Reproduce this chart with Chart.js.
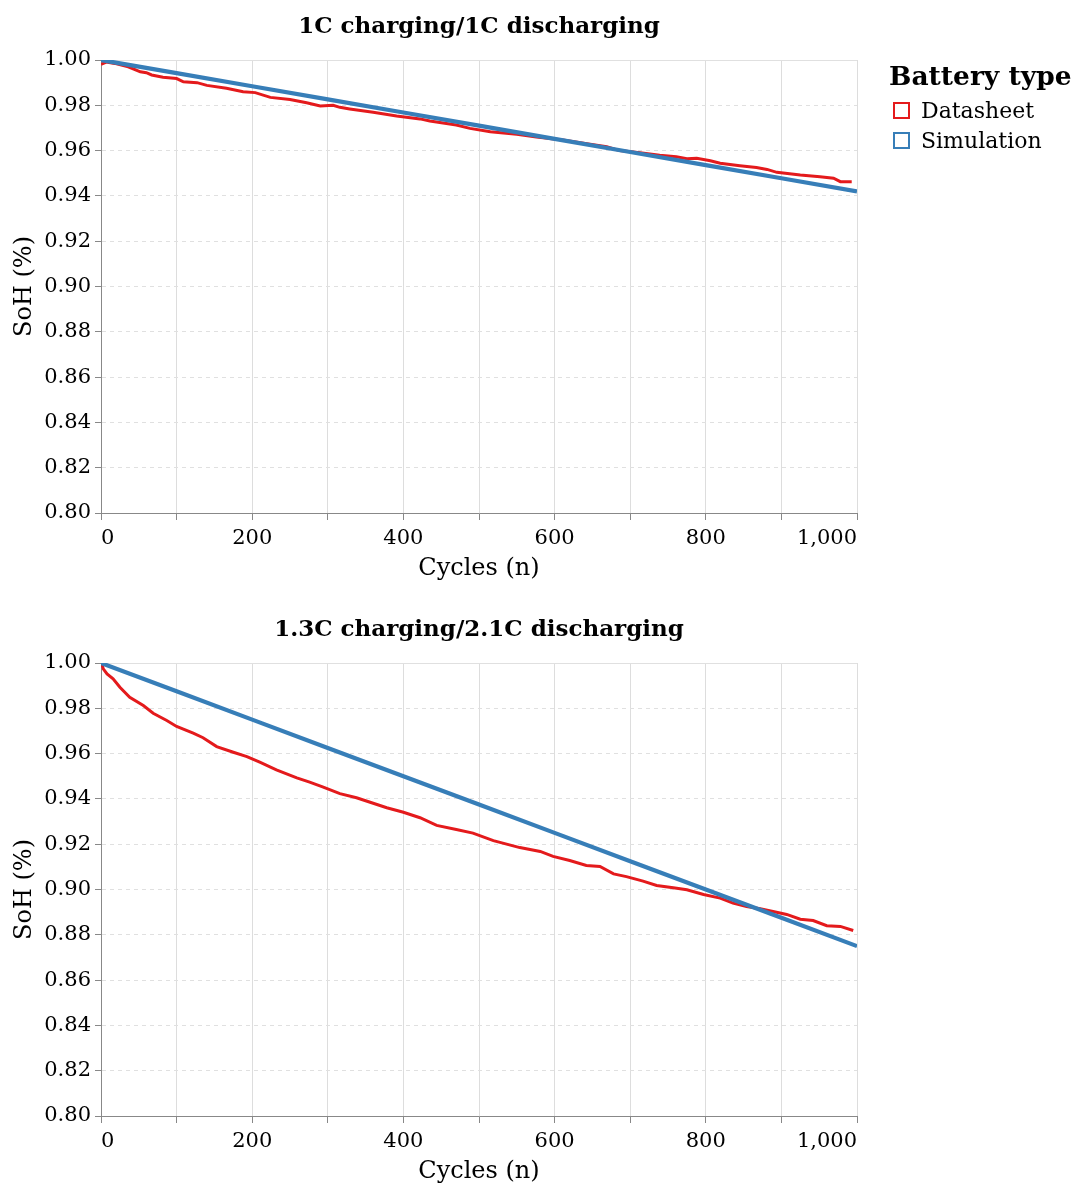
<!DOCTYPE html>
<html lang="en">
<head>
  <meta charset="UTF-8" />
  <title>SoH vs cycles</title>
  <script src="https://cdn.jsdelivr.net/npm/chart.js"></script>
  <style>
    body {
      margin: 0;
      background: #fff;
      color: #000;
      font-family: 'DejaVu Serif', serif;
    }

    #page {
      position: relative;
      width: 1079px;
      height: 1187px;
    }

    .panel {
      position: absolute;
      left: 0;
      width: 1079px;
      height: 584px;
    }

    #panel1 { top: 0; }
    #panel2 { top: 603px; }

    #legend {
      position: absolute;
      left: 889px;
      top: 60px;
    }

    #legend .title {
      font-weight: bold;
      font-size: 26.5px;
      line-height: 32px;
      margin-bottom: 3px;
    }

    #legend .item {
      display: flex;
      align-items: center;
      height: 30px;
      font-size: 22px;
    }

    #legend .box {
      width: 13px;
      height: 13px;
      border: 2px solid;
      margin-left: 4px;
      margin-right: 11px;
    }
  </style>
</head>
<body>
  <div id="page">
    <div class="panel" id="panel1"><canvas id="chart1"></canvas></div>
    <div class="panel" id="panel2"><canvas id="chart2"></canvas></div>
    <div id="legend"><div class="title">Battery type</div></div>
  </div>

  <script>
    const seriesNames = ["Datasheet", "Simulation"];
    const seriesColors = ["#e41a1c", "#377eb8"];

    const xTickValues = [0, 100, 200, 300, 400, 500, 600, 700, 800, 900, 1000];
    const yTickValues = [0.80, 0.82, 0.84, 0.86, 0.88, 0.90, 0.92, 0.94, 0.96, 0.98, 1.00];

    // simulation, both panels
    const simCycles = [0, 100, 200, 300, 400, 500, 600, 700, 800, 900, 1000];
    const simSoh1 = [1.000, 0.9942, 0.9884, 0.9826, 0.9768, 0.9710, 0.9652, 0.9594, 0.9536, 0.9478, 0.9420];
    const simSoh2 = [1.000, 0.9875, 0.9750, 0.9625, 0.9500, 0.9375, 0.9250, 0.9125, 0.9000, 0.8875, 0.8750];

    // datasheet, 1C / 1C
    const dsCycles1 = [0, 7, 18, 36, 52, 60, 67, 82, 100, 109, 127, 140, 166, 188, 204, 224, 250, 272, 290, 307,
      316, 329, 360, 391, 422, 435, 470, 488, 515, 550, 576, 611, 647, 669, 686, 713, 739, 761, 775, 788,
      806, 819, 845, 867, 881, 894, 925, 951, 969, 978, 993];
    const dsSoh1 = [0.9981, 0.9991, 0.9985, 0.9970, 0.9948, 0.9944, 0.9934, 0.9924, 0.9918, 0.9904, 0.9900,
      0.9888, 0.9875, 0.9860, 0.9856, 0.9835, 0.9826, 0.9811, 0.9797, 0.9800, 0.9791, 0.9784, 0.9769,
      0.9753, 0.9740, 0.9731, 0.9713, 0.9698, 0.9683, 0.9672, 0.9660, 0.9647, 0.9628, 0.9617, 0.9600,
      0.9591, 0.9580, 0.9573, 0.9564, 0.9566, 0.9555, 0.9544, 0.9533, 0.9525, 0.9517, 0.9504, 0.9492,
      0.9485, 0.9478, 0.9463, 0.9463];

    // datasheet, 1.3C / 2.1C
    const dsCycles2 = [0, 3, 8, 16, 25, 38, 56, 69, 87, 100, 122, 135, 153, 175, 193, 210, 232, 259, 276, 294,
      316, 338, 356, 378, 400, 422, 444, 470, 492, 519, 554, 581, 598, 620, 642, 660, 678, 695, 717, 735,
      757, 775, 797, 819, 836, 854, 872, 889, 907, 925, 942, 960, 978, 995];
    const dsSoh2 = [1.0008, 0.9974, 0.9952, 0.9930, 0.9893, 0.9849, 0.9812, 0.9778, 0.9746, 0.9720, 0.9690,
      0.9670, 0.9631, 0.9606, 0.9587, 0.9562, 0.9528, 0.9493, 0.9474, 0.9452, 0.9423, 0.9405, 0.9385,
      0.9361, 0.9341, 0.9317, 0.9283, 0.9265, 0.9249, 0.9216, 0.9185, 0.9168, 0.9146, 0.9128, 0.9106,
      0.9102, 0.9069, 0.9057, 0.9037, 0.9018, 0.9008, 0.8999, 0.8978, 0.8962, 0.8940, 0.8925, 0.8915,
      0.8903, 0.8890, 0.8869, 0.8863, 0.8840, 0.8837, 0.8819];

    const FONT = "'DejaVu Serif', serif";

    // html legend
    const legendEl = document.getElementById("legend");
    seriesNames.forEach((name, i) => {
      const item = document.createElement("div");
      item.className = "item";
      const box = document.createElement("span");
      box.className = "box";
      box.style.borderColor = seriesColors[i];
      item.appendChild(box);
      item.appendChild(document.createTextNode(name));
      legendEl.appendChild(item);
    });

    function toPoints(xs, ys) {
      return xs.map((x, i) => ({ x: x, y: ys[i] }));
    }

    function makeChart(canvasId, titleText, dsCycles, dsSoh, simSoh) {
      const ctx = document.getElementById(canvasId).getContext("2d");
      return new Chart(ctx, {
        type: 'line',
        data: {
          datasets: [{
            label: seriesNames[0],
            data: toPoints(dsCycles, dsSoh),
            borderColor: seriesColors[0],
            borderWidth: 3,
            pointRadius: 0,
            tension: 0,
            order: 2
          }, {
            label: seriesNames[1],
            data: toPoints(simCycles, simSoh),
            borderColor: seriesColors[1],
            borderWidth: 4.2,
            pointRadius: 0,
            tension: 0,
            order: 1
          }]
        },
        options: {
          responsive: true,
          maintainAspectRatio: false,
          animation: false,
          layout: { padding: { left: 0, right: 222, top: 0, bottom: 0 } },
          plugins: {
            legend: { display: false },
            tooltip: { enabled: false },
            title: {
              display: true,
              fullSize: false,
              text: titleText,
              color: '#000',
              font: { family: FONT, size: 23, weight: 'bold' },
              padding: { top: 13, bottom: 19.4 }
            }
          },
          scales: {
            x: {
              type: 'linear',
              min: 0,
              max: 1000,
              afterBuildTicks: s => { s.ticks = xTickValues.map(v => ({ value: v })); },
              afterFit: s => { s.height = 71; },
              ticks: {
                align: 'inner',
                autoSkip: false,
                maxRotation: 0,
                color: '#000',
                padding: 6,
                font: { family: FONT, size: 21 },
                callback: v => (v % 200 === 0 ? v.toLocaleString('en-US') : '')
              },
              grid: { color: '#dddddd', tickColor: '#888888', tickLength: 7 },
              border: { color: '#888888' },
              title: {
                display: true,
                text: 'Cycles (n)',
                color: '#000',
                font: { family: FONT, size: 24 },
                padding: { top: 0, bottom: 1 }
              }
            },
            y: {
              min: 0.8,
              max: 1.0,
              afterBuildTicks: s => { s.ticks = yTickValues.map(v => ({ value: v })); },
              afterFit: s => { s.width = 101; },
              ticks: {
                color: '#000',
                padding: 4,
                font: { family: FONT, size: 21 },
                callback: v => v.toFixed(2)
              },
              grid: { color: '#e0e0e0', tickColor: '#888888', tickLength: 6 },
              border: {
                color: '#888888',
                dash: c => (c.tick && Math.abs(c.tick.value - 1) > 1e-9 ? [4, 4] : [])
              },
              title: {
                display: true,
                text: 'SoH (%)',
                color: '#000',
                font: { family: FONT, size: 24 },
                padding: { top: 10, bottom: 0 }
              }
            }
          }
        }
      });
    }

    makeChart("chart1", "1C charging/1C discharging", dsCycles1, dsSoh1, simSoh1);
    makeChart("chart2", "1.3C charging/2.1C discharging", dsCycles2, dsSoh2, simSoh2);
  </script>
</body>
</html>
